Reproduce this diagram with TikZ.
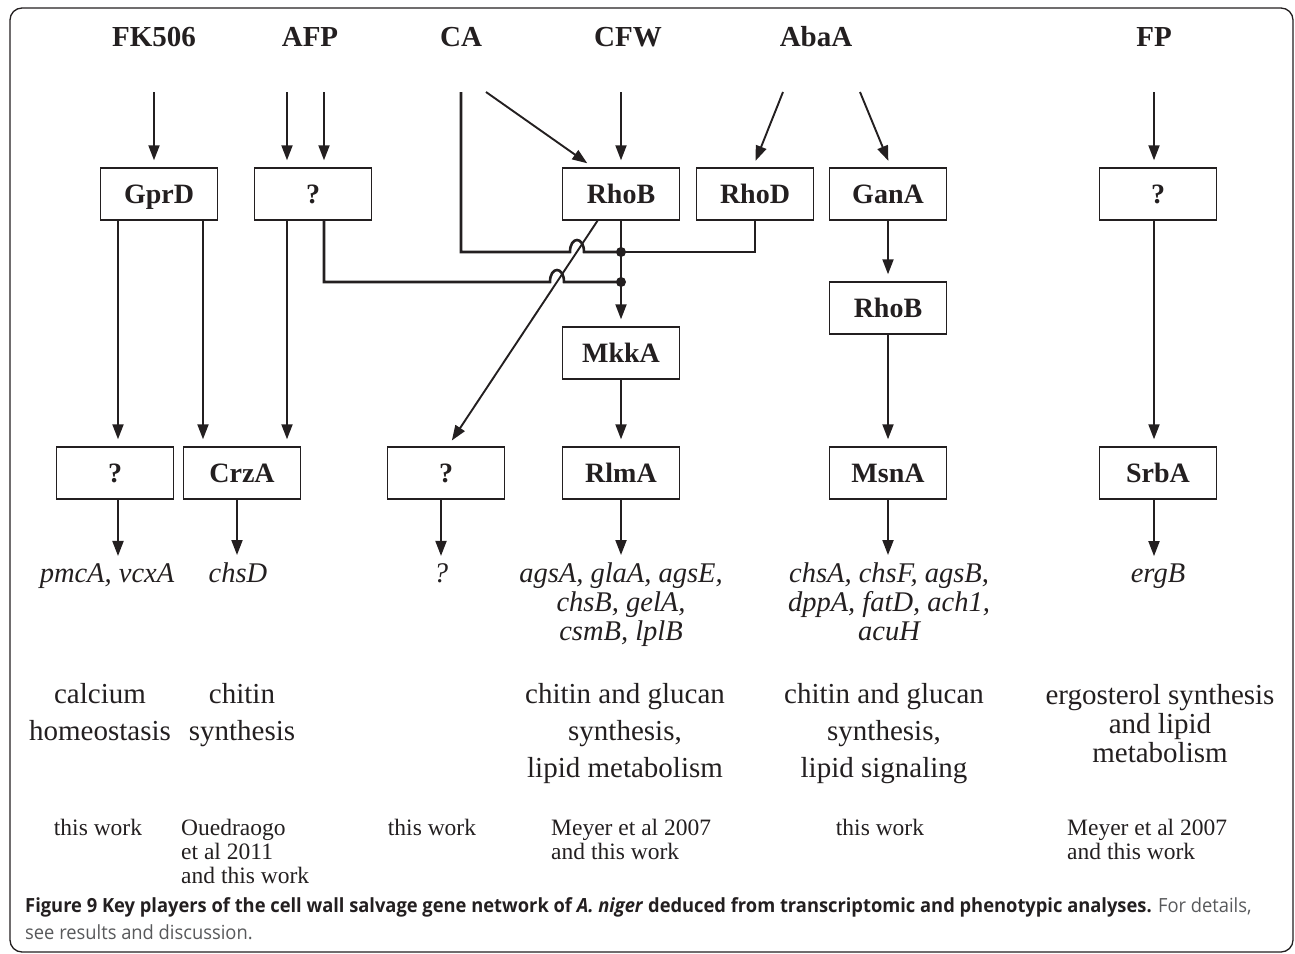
\documentclass[tikz,border=0pt]{standalone}
\usepackage{fontspec}
\setmainfont{Liberation Serif}
\newfontfamily\capfont[FakeStretch=0.94]{Open Sans}
\usetikzlibrary{arrows.meta,calc}
\definecolor{ink}{HTML}{231F20}
\definecolor{capgray}{HTML}{58595B}
\tikzset{
  box/.style={draw=ink, line width=1.4pt, minimum width=117pt, minimum height=52pt,
    inner sep=0pt, text height=19pt, text depth=0pt, text=ink,
    font=\fontsize{28}{30}\selectfont\bfseries},
  toplab/.style={anchor=base, inner sep=0pt, text=ink, font=\fontsize{29}{30}\selectfont\bfseries},
  arr/.style={draw=ink, line width=1.9pt, -{Triangle[length=15pt,width=11pt]}, shorten >=7pt},
  conn/.style={draw=ink, line width=2.6pt},
  gene/.style={anchor=base, inner sep=0pt, align=center, text=ink,
    font=\fontsize{28.5}{29}\selectfont\itshape},
  func/.style={anchor=base, inner sep=0pt, align=center, text=ink,
    font=\fontsize{29}{37}\selectfont},
  funcb/.style={func, font=\fontsize{29}{29}\selectfont},
  ref/.style={anchor=base, inner sep=0pt, align=center, text=ink,
    font=\fontsize{23.5}{24}\selectfont},
  refl/.style={ref, anchor=base west, align=left},
  dot/.style={fill=ink, draw=none},
}
\begin{document}
\begin{tikzpicture}[x=1pt,y=-1pt]
\useasboundingbox (0,0) rectangle (1295,953);
\draw[draw=ink, line width=1.3pt, rounded corners=12pt] (10,8) rectangle (1293,952);

% top labels
\node[toplab] (fk)  at (154,46) {FK506};
\node[toplab] (afp) at (310,46) {AFP};
\node[toplab] (ca)  at (461,46) {CA};
\node[toplab] (cfw) at (628,46) {CFW};
\node[toplab] (aba) at (816,46) {AbaA};
\node[toplab] (fp)  at (1154,46) {FP};

% boxes
\node[box] (gprd)  at (159,194) {GprD};
\node[box] (q1)    at (313,194) {?};
\node[box] (rhob)  at (621,194) {RhoB};
\node[box] (rhod)  at (755,194) {RhoD};
\node[box] (gana)  at (888,194) {GanA};
\node[box] (q2)    at (1158,194) {?};
\node[box] (rhob2) at (888,308) {RhoB};
\node[box] (mkka)  at (621,353) {MkkA};
\node[box] (q3)    at (115,473) {?};
\node[box] (crza)  at (242,473) {CrzA};
\node[box] (q4)    at (446,473) {?};
\node[box] (rlma)  at (621,473) {RlmA};
\node[box] (msna)  at (888,473) {MsnA};
\node[box] (srba)  at (1158,473) {SrbA};

% gene labels (anchor = baseline of last line)
\node[gene] (g1) at (107,582) {pmcA, vcxA};
\node[gene] (g2) at (238,582) {chsD};
\node[gene] (g3) at (441,582) {?};
\node[gene] (g4) at (621,640) {agsA, glaA, agsE,\\chsB, gelA,\\csmB, lplB};
\node[gene] (g5) at (889,640) {chsA, chsF, agsB,\\dppA, fatD, ach1,\\acuH};
\node[gene] (g6) at (1158,582) {ergB};

% function labels (anchor = baseline of last line)
\node[func] (f1) at (100,740) {calcium\\homeostasis};
\node[func] (f2) at (242,740) {chitin\\synthesis};
\node[func] (f3) at (625,777) {chitin and glucan\\synthesis,\\lipid metabolism};
\node[func] (f4) at (884,777) {chitin and glucan\\synthesis,\\lipid signaling};
\node[funcb] (f5) at (1160,762) {ergosterol synthesis\\and lipid\\metabolism};

% references (anchor = baseline of last line)
\node[ref]  (r1) at (98,835) {this work};
\node[refl] (r2) at (181,883) {Ouedraogo\\et al 2011\\and this work};
\node[ref]  (r3) at (432,835) {this work};
\node[refl] (r4) at (551,859) {Meyer et al 2007\\and this work};
\node[ref]  (r5) at (880,835) {this work};
\node[refl] (r6) at (1067,859) {Meyer et al 2007\\and this work};

% start points
\coordinate (sFK) at (154,92);
\coordinate (sA1) at (287,92);
\coordinate (sA2) at (324,92);
\coordinate (sCA) at (461,92);
\coordinate (sCAd) at (486,92);
\coordinate (sCFW) at (621,92);
\coordinate (sAb1) at (783,92);
\coordinate (sAb2) at (860,92);
\coordinate (sFP) at (1154,92);
\coordinate (jA) at (621,252);
\coordinate (jB) at (621,282);
\coordinate (cGa) at (118,220);
\coordinate (cGb) at (203,220);
\coordinate (cQa) at (287,220);
\coordinate (cQb) at (324,220);
\coordinate (cRD) at (755,220);
\coordinate (cRBd) at (598,220);
\coordinate (cQ2) at (1154,220);
\coordinate (b1) at (118,500);
\coordinate (b2) at (237,500);
\coordinate (b3) at (441,500);
\coordinate (b4) at (621,500);
\coordinate (b5) at (888,500);
\coordinate (b6) at (1154,500);

% input arrows
\draw[arr] (sFK) -- (sFK |- gprd.north);
\draw[arr] (sA1) -- (sA1 |- q1.north);
\draw[arr] (sA2) -- (sA2 |- q1.north);
\draw[arr] (sCFW) -- (rhob.north);
\draw[arr] (sCAd) -- ($(rhob.north)+(-28,0)$);
\draw[arr] (sAb1) -- ($(rhod.north)+(-2,0)$);
\draw[arr] (sAb2) -- ($(gana.north)+(3,0)$);
\draw[arr] (sFP) -- (sFP |- q2.north);

% middle connections
\draw[arr] (cGa) -- (cGa |- q3.north);
\draw[arr] (cGb) -- (cGb |- crza.north);
\draw[arr] (cQa) -- (cQa |- crza.north);
\draw[arr] (cRBd) -- ($(q4.north)+(2,0)$);
\draw[arr] (rhob.south) -- (mkka.north);
\draw[arr] (mkka.south) -- (rlma.north);
\draw[arr] (gana.south) -- (rhob2.north);
\draw[arr] (rhob2.south) -- (msna.north);
\draw[arr] (cQ2) -- (cQ2 |- srba.north);

% connectors with hops
\draw[conn, line join=miter] (sCA) -- (sCA |- jA) -- (570,252)
   .. controls (570,236) and (584,236) .. (584,252) -- (jA);
\draw[conn, line join=miter] (cQb) -- (cQb |- jB) -- (550,282)
   .. controls (550,266) and (564,266) .. (564,282) -- (jB);
\draw[conn, line join=miter] (cRD) -- (cRD |- jA) -- (jA);
\fill[dot] (jA) circle (5pt);
\fill[dot] (jB) circle (5pt);

% outputs
\draw[arr] (b1) -- (b1 |- g1.north);
\draw[arr] (b2) -- (b2 |- g2.north);
\draw[arr] (b3) -- (b3 |- g3.north);
\draw[arr] (b4) -- (b4 |- g4.north);
\draw[arr] (b5) -- (b5 |- g5.north);
\draw[arr] (b6) -- (b6 |- g6.north);

% caption
\node[anchor=base west, inner sep=0pt] (cap1) at (25,912)
  {\capfont\fontsize{19.5}{24}\selectfont\color{ink}\bfseries Figure 9 Key players of the cell wall salvage gene network of \textit{A. niger} deduced from transcriptomic and phenotypic analyses. \mdseries\color{capgray}For details,};
\node[anchor=base west, inner sep=0pt] (cap2) at (25,939)
  {\capfont\fontsize{19.5}{24}\selectfont\color{capgray}see results and discussion.};
\end{tikzpicture}
\end{document}
